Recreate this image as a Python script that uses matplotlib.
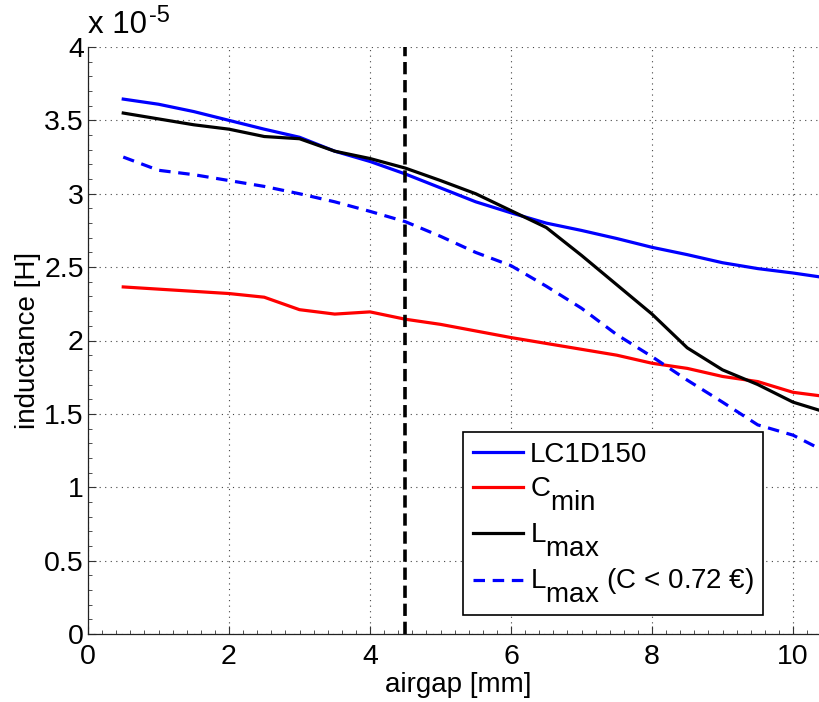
import matplotlib
matplotlib.use('Agg')
import matplotlib.pyplot as plt
import matplotlib._mathtext as _mt
from matplotlib.ticker import MultipleLocator
from matplotlib.transforms import offset_copy

plt.rcParams['font.family'] = ['Liberation Sans', 'DejaVu Sans']
plt.rcParams['mathtext.fontset'] = 'custom'
plt.rcParams['mathtext.rm'] = 'Liberation Sans'
plt.rcParams['mathtext.it'] = 'Liberation Sans'
plt.rcParams['mathtext.bf'] = 'Liberation Sans:bold'
# MATLAB-style sub/superscripts: full-size and well offset
_mt.SHRINK_FACTOR = 1.0
_mt.FontConstantsBase.sub1 = 0.95
_mt.FontConstantsBase.sup1 = 0.8

# ---- data (inductance in units of 1e-5 H) ----
airgap = [0.5, 1.0, 1.5, 2.0, 2.5, 3.0, 3.5, 4.0, 4.5, 5.0, 5.5,
          6.0, 6.5, 7.0, 7.5, 8.0, 8.5, 9.0, 9.5, 10.0, 10.5]
lc1d150 = [3.645, 3.61, 3.56, 3.50, 3.44, 3.385, 3.29, 3.22, 3.135, 3.04, 2.945,
           2.87, 2.80, 2.75, 2.695, 2.635, 2.585, 2.53, 2.49, 2.46, 2.425]
c_min = [2.365, 2.35, 2.335, 2.32, 2.295, 2.21, 2.18, 2.195, 2.145, 2.11, 2.065,
         2.02, 1.98, 1.94, 1.90, 1.845, 1.81, 1.755, 1.72, 1.647, 1.616]
l_max = [3.55, 3.51, 3.47, 3.44, 3.39, 3.375, 3.29, 3.24, 3.175, 3.09, 3.00,
         2.885, 2.77, 2.58, 2.38, 2.18, 1.95, 1.80, 1.70, 1.58, 1.506]
l_max_cheap = [3.25, 3.16, 3.13, 3.09, 3.05, 3.00, 2.945, 2.88, 2.81, 2.71, 2.60,
               2.51, 2.37, 2.22, 2.04, 1.89, 1.73, 1.58, 1.425, 1.355, 1.233]
chosen_airgap = 4.5

labels = ['LC1D150', r'C$_{\mathregular{min}}$', r'L$_{\mathregular{max}}$',
          r'L$_{\mathregular{max}}$ (C < 0.72 €)']
xticks = [0, 2, 4, 6, 8, 10]
yticks = [0, 0.5, 1, 1.5, 2, 2.5, 3, 3.5, 4]
yticklabels = ['0', '0.5', '1', '1.5', '2', '2.5', '3', '3.5', '4']

W, H = 819, 702
fig = plt.figure(figsize=(W / 100, H / 100), dpi=100)
x0_px, x10_px = 88, 793
ppu = (x10_px - x0_px) / 10.0
xmax = 10.5
left = x0_px / W
width = (xmax * ppu) / W
bottom = (H - 634) / H
top = (H - 47) / H
ax = fig.add_axes([left, bottom, width, top - bottom])

lw = 2.3
ax.plot(airgap, lc1d150, color='#0000ff', lw=lw, label=labels[0], solid_joinstyle='round')
ax.plot(airgap, c_min, color='#ff0000', lw=lw, label=labels[1], solid_joinstyle='round')
ax.plot(airgap, l_max, color='black', lw=lw, label=labels[2], solid_joinstyle='round')
ax.plot(airgap, l_max_cheap, color='#0000ff', lw=lw, ls=(0, (3.6, 2.4)), label=labels[3])
ax.axvline(chosen_airgap, color='black', lw=2.6, ls=(0, (3.4, 1.6)))

ax.set_xlim(0, xmax)
ax.set_ylim(0, 4)
ax.set_xticks(xticks)
ax.set_xticklabels([str(t) for t in xticks])
ax.set_yticks(yticks)
ax.set_yticklabels(yticklabels)
ax.xaxis.set_minor_locator(MultipleLocator(0.2))
ax.yaxis.set_minor_locator(MultipleLocator(0.1))
ax.tick_params(which='major', direction='in', length=6, width=0.8, labelsize=20.5,
               pad=3, color='#333333')
ax.tick_params(which='minor', direction='in', length=3, width=0.6, color='#333333')
ax.tick_params(axis='x', pad=7)
for s in ['top', 'right']:
    ax.spines[s].set_visible(False)
for s in ['left', 'bottom']:
    ax.spines[s].set_linewidth(0.9)
    ax.spines[s].set_color('#222222')

ax.grid(True, which='major', color='#444444', lw=0.8, ls=(0, (1, 4)))

ax.set_xlabel('airgap [mm]', fontsize=20, labelpad=2)
ax.set_ylabel('inductance [H]', fontsize=20, labelpad=2)

# offset multiplier "x 10^-5"
ax.text(0.0, 1.012, 'x 10', transform=ax.transAxes,
        fontsize=22.5, ha='left', va='bottom')
ax.text(0.0, 1.012, '-5', fontsize=17, ha='left', va='bottom',
        transform=offset_copy(ax.transAxes, fig=fig, x=61, y=13, units='dots'))

leg = ax.legend(loc='upper left', bbox_to_anchor=(463 / W, 1 - 432 / H),
                bbox_transform=fig.transFigure, borderaxespad=0, fontsize=20,
                fancybox=False, framealpha=1, edgecolor='black',
                handlelength=1.8, handletextpad=0.25, labelspacing=0.3,
                borderpad=0.35)
leg.get_frame().set_linewidth(1.2)

fig.savefig('out.png', dpi=100)
